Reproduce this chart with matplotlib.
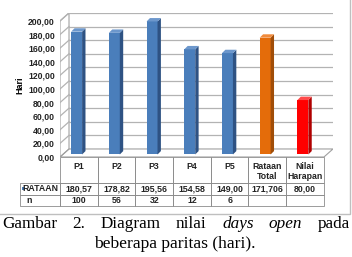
import matplotlib
matplotlib.use("Agg")
from matplotlib import pyplot as plt
from matplotlib.patches import Polygon, Rectangle
import numpy as np

# data
categories = ["P1", "P2", "P3", "P4", "P5", "Rataan\nTotal", "Nilai\nHarapan"]
rataan = [180.57, 178.82, 195.56, 154.58, 149.00, 171.706, 80.00]
rataan_text = ["180,57", "178,82", "195,56", "154,58", "149,00", "171,706", "80,00"]
n_text = ["100", "56", "32", "12", "6", "", ""]
row_labels = ["RATAAN", "n"]
yticks = [0, 20, 40, 60, 80, 100, 120, 140, 160, 180, 200]

front_col = ["#4A7EBB"] * 5 + ["#E46C0A", "#FF0000"]
side_col = ["#2E5283"] * 5 + ["#A04D08", "#B00000"]
top_col = ["#6C97CC"] * 5 + ["#F08B3C", "#FF4A4A"]

W, H = 352, 257
fig = plt.figure(figsize=(W / 100, H / 100), dpi=100)
fig.patch.set_facecolor("white")

# axes in pixel layout (front plane 0 at y=157, back wall top at y=12.8)
ax_l, ax_r, ax_t, ax_b = 60, 333, 12.8, 157
ax = fig.add_axes([ax_l / W, 1 - ax_b / H, (ax_r - ax_l) / W, (ax_b - ax_t) / H])
ax.set_xlim(-0.5, 6.74)
ax.set_ylim(0, 212)
for s in ax.spines.values():
    s.set_visible(False)
ax.patch.set_visible(False)

# 3d depth offsets in data units
bx, by = 0.239, 11.8      # back wall
sx, sy = -0.014, 3.7      # bar front face shift
dx, dy = 0.09, 5.0        # bar depth
bw = 0.29

grid_c = "#B3B3B3"
edge_c = "#A0A0A0"

# floor and left wall
ax.add_patch(Polygon([(-0.5, 0), (6.5, 0), (6.5 + bx, by), (-0.5 + bx, by)],
                     closed=True, facecolor="white", edgecolor=edge_c, lw=0.8, zorder=1))
ax.add_patch(Polygon([(-0.5, 0), (-0.5 + bx, by), (-0.5 + bx, 200 + by), (-0.5, 200)],
                     closed=True, facecolor="none", edgecolor=edge_c, lw=0.8, zorder=1))
for v in yticks[1:]:
    ax.plot([-0.5 + bx, 6.5 + bx], [v + by, v + by], color=grid_c, lw=0.9, zorder=1)
    ax.plot([-0.5, -0.5 + bx], [v, v + by], color=grid_c, lw=0.9, zorder=1)

# bars
x = np.arange(len(categories))
left = x - (bw + dx) / 2 + sx
ax.bar(left, rataan, width=bw, bottom=sy, align="edge", color=front_col,
       edgecolor="none", zorder=3)
for xl, v, sc, tc in zip(left, rataan, side_col, top_col):
    xr = xl + bw
    ax.add_patch(Polygon([(xr, sy), (xr + dx, sy + dy), (xr + dx, sy + v + dy), (xr, sy + v)],
                         closed=True, facecolor=sc, edgecolor="none", zorder=3))
    ax.add_patch(Polygon([(xl, sy + v), (xl + dx, sy + v + dy), (xr + dx, sy + v + dy), (xr, sy + v)],
                         closed=True, facecolor=tc, edgecolor="none", zorder=3))

# y axis
ax.set_xticks([])
ax.set_yticks(yticks)
ax.set_yticklabels([f"{v:.2f}".replace(".", ",") for v in yticks])
ax.tick_params(axis="y", length=0, pad=3.6, labelsize=6.2, labelcolor="#222222")
for lab in ax.get_yticklabels():
    lab.set_fontweight("bold")
    lab.set_family("Liberation Sans")
ax.set_ylabel("Hari", fontsize=6.5, fontweight="bold", family="Liberation Sans")
ax.yaxis.set_label_coords((24 - ax_l) / (ax_r - ax_l), (ax_b - 85) / (ax_b - ax_t))

# data table, drawn by hand below the axes (axes-fraction coordinates)
def fx(px):
    return (px - ax_l) / (ax_r - ax_l)

def fy(py):
    return (ax_b - py) / (ax_b - ax_t)

col_w = 37.7
col_edges = [ax_l + k * col_w for k in range(len(categories) + 1)]
row_edges = [157, 183, 194.5, 206]
label_l = 20
tcol = "#8C8C8C"
tfont = dict(fontsize=6.3, fontweight="bold", family="Liberation Sans", color="#222222",
             transform=ax.transAxes, clip_on=False)

def cell(x0, x1, y0, y1):
    ax.add_patch(Rectangle((fx(x0), fy(y1)), fx(x1) - fx(x0), fy(y0) - fy(y1),
                           transform=ax.transAxes, fill=False, edgecolor=tcol,
                           lw=0.6, clip_on=False))

for k, cat in enumerate(categories):
    xa, xb = col_edges[k], col_edges[k + 1]
    xc = fx((xa + xb) / 2)
    cell(xa, xb, row_edges[0], row_edges[1])
    hy = 171.5 if "\n" in cat else 166.5
    ax.text(xc, fy(hy), cat, ha="center", va="center", linespacing=1.05, **tfont)
    for r, vals in enumerate([rataan_text, n_text]):
        cell(xa, xb, row_edges[r + 1], row_edges[r + 2])
        ax.text(xc, fy((row_edges[r + 1] + row_edges[r + 2]) / 2), vals[k],
                ha="center", va="center", **tfont)

for r, lab in enumerate(row_labels):
    cell(label_l, ax_l, row_edges[r + 1], row_edges[r + 2])
    ym = fy((row_edges[r + 1] + row_edges[r + 2]) / 2)
    if r == 0:
        ax.text(fx(ax_l - 2), ym, lab, ha="right", va="center", **tfont)
        ax.add_patch(Rectangle((fx(22), ym - 0.012), fx(25) - fx(22), 0.024,
                               transform=ax.transAxes, facecolor="#4A7EBB",
                               edgecolor="none", clip_on=False))
    else:
        ax.text(fx(29), ym, lab, ha="center", va="center", **tfont)

# chart outer border
fig.patches.append(Rectangle((-0.01, 1 - 214 / H), 350 / W + 0.01, 214 / H + 0.01,
                             transform=fig.transFigure, fill=False,
                             edgecolor="#BFBFBF", lw=1.0))

# caption, first line justified
renderer = fig.canvas.get_renderer()
words = [("Gambar", "normal"), ("2.", "normal"), ("Diagram", "normal"), ("nilai", "normal"),
         ("days", "italic"), ("open", "italic"), ("pada", "normal")]
y1 = 1 - 223.5 / H
texts = [fig.text(0, y1, w, fontsize=12.3, family="Liberation Serif", style=st,
                  ha="left", va="center") for w, st in words]
widths = [t.get_window_extent(renderer).width for t in texts]
x0, x1 = 2, 350
gap = (x1 - x0 - sum(widths)) / (len(words) - 1)
pos = x0
for t, wd in zip(texts, widths):
    t.set_x(pos / W)
    pos += wd + gap
fig.text(175 / W, 1 - 243.5 / H, "beberapa paritas (hari).", fontsize=12.6,
         family="Liberation Serif", ha="center", va="center")

fig.savefig("out.png", dpi=100)
